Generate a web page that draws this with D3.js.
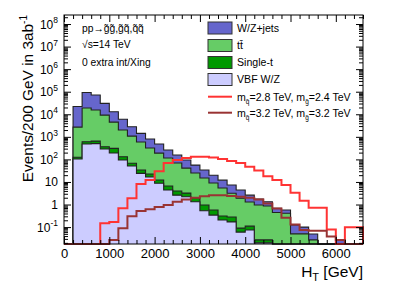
<!DOCTYPE html>
<html>
<head>
<meta charset="utf-8">
<script src="https://cdn.jsdelivr.net/npm/d3@7"></script>
<style>
body { margin: 0; background: #fff; }
svg { display: block; }
text { font-family: "Liberation Sans", Arial, Helvetica, sans-serif; fill: #000; }
</style>
</head>
<body>
<svg id="chart" width="405" height="291"></svg>
<script>
// HT binning: 200 GeV bins from 0 to 6600 GeV
const binWidth = 200;
const nBins = 33;

// backgrounds (events per bin), stacked bottom -> top
const vbfWZ = [0,104,480,500,288,191,94,51,24,16.5,8.7,4.4,2.6,2.2,1.33,0.53,0.34,0.205,0.17,0.06,0.074,0.02,0.02,0,0,0,0,0,0,0,0,0,0];
const singleTop = [0,20,127,146,77,118,37,16,10,5.9,3.5,2.2,1.4,1.0,0.61,0.42,0.23,0.105,0.11,0.03,0.036,0.007,0.007,0,0,0,0,0,0,0,0,0,0];
const ttbar = [0,2580,18400,14850,8840,4190,1870,1010,556,298,178,108,65,38,23,14,8.4,5.1,2.9,1.8,1.18,0.92,0.83,0.44,0.41,0.05,0.05,0.027,0,0,0,0,0];
const wzJets = [0,19300,73000,55500,21300,8500,4000,1720,840,480,290,145,87,53,31,19,11,6.6,4.1,2.5,1.31,0.8,0.47,0.24,0.16,0.073,0.05,0.022,0,0,0.027,0,0];

// signals
const sigLight = [0,0,0,0,0.146,0.17,0.68,1.9,8.1,12.2,30,69,94,115,131,131,120,104,85,69,47,32,18,12.2,7.3,3.3,1.47,0.72,0.72,0.079,0,0.098,0.098];
const sigHeavy = [0,0,0,0,0,0.027,0.088,0.3,0.51,0.61,0.78,0.95,1.33,1.67,2.0,2.3,2.6,2.6,2.4,2.2,2.0,1.67,1.1,0.66,0.26,0.13,0.074,0.068,0.068,0.038,0.027,0,0];

const xTicks = [0,1000,2000,3000,4000,5000,6000];
const yPowers = [8,7,6,5,4,3,2,1,0,-1];

const svg = d3.select("#chart");
const margin = {left: 64, right: 42, top: 15, bottom: 47};
const W = 405, H = 291;

const x = d3.scaleLinear().domain([0, nBins * binWidth]).range([margin.left, W - margin.right]);
const y = d3.scaleLog().domain([Math.pow(10, -1.75), Math.pow(10, 8.4)]).range([H - margin.bottom, margin.top]);
const yMin = y.domain()[0];

// cumulative stack tops
function cumulate(list) {
    let run = new Array(nBins).fill(0);
    return list.map(arr => { run = run.map((v, i) => v + arr[i]); return run; });
}
const [topVbf, topSingle, topTt, topWz] = cumulate([vbfWZ, singleTop, ttbar, wzJets]);

function yc(v) { return v > yMin ? y(v) : y(yMin); }

function stepPath(vals) {
    let p = "M" + x(0) + "," + yc(0);
    vals.forEach((v, i) => {
        p += "L" + x(i * binWidth) + "," + yc(v) + "L" + x((i + 1) * binWidth) + "," + yc(v);
    });
    p += "L" + x(nBins * binWidth) + "," + yc(0);
    return p;
}

const plot = svg.append("g");

// stacked histograms, drawn from the total downwards
const stackDefs = [
    {vals: topWz, fill: "#6666cc"},
    {vals: topTt, fill: "#66cc66"},
    {vals: topSingle, fill: "#009900"},
    {vals: topVbf, fill: "#ccccff"}
];
stackDefs.forEach(s => {
    plot.append("path").attr("d", stepPath(s.vals) + "Z")
        .attr("fill", s.fill).attr("stroke", "none");
    plot.append("path").attr("d", stepPath(s.vals))
        .attr("fill", "none").attr("stroke", "#222").attr("stroke-width", 1.1);
});

// signal lines
plot.append("path").attr("d", stepPath(sigLight))
    .attr("fill", "none").attr("stroke", "#ff3333").attr("stroke-width", 2);
plot.append("path").attr("d", stepPath(sigHeavy))
    .attr("fill", "none").attr("stroke", "#993333").attr("stroke-width", 2);

// frame
svg.append("rect")
    .attr("x", x.range()[0]).attr("y", y.range()[1])
    .attr("width", x.range()[1] - x.range()[0]).attr("height", y.range()[0] - y.range()[1])
    .attr("fill", "none").attr("stroke", "#000").attr("stroke-width", 1);

// minor tick values
const xMinor = d3.range(0, nBins * binWidth + 1, binWidth).filter(v => v % 1000 !== 0);
const yMinor = [];
for (let p = -2; p <= 8; p++) {
    for (let m = 2; m <= 9; m++) {
        const v = m * Math.pow(10, p);
        if (v > y.domain()[0] && v < y.domain()[1]) yMinor.push(v);
    }
}

function styleAxis(g) {
    g.select(".domain").remove();
    g.selectAll("line").attr("stroke", "#000").attr("stroke-width", 1);
}

const bottomY = y.range()[0], topY = y.range()[1];
const leftX = x.range()[0], rightX = x.range()[1];

svg.append("g").attr("transform", `translate(0,${bottomY})`)
    .call(d3.axisBottom(x).tickValues(xTicks).tickSizeInner(-7).tickSizeOuter(0).tickPadding(5).tickFormat(d3.format("d")))
    .call(styleAxis)
    .call(g => g.selectAll("text").attr("font-size", 13).attr("font-family", "Liberation Sans, Arial, sans-serif"));
svg.append("g").attr("transform", `translate(0,${bottomY})`)
    .call(d3.axisBottom(x).tickValues(xMinor).tickSizeInner(-4).tickSizeOuter(0).tickFormat(""))
    .call(styleAxis);
svg.append("g").attr("transform", `translate(0,${topY})`)
    .call(d3.axisTop(x).tickValues(xTicks).tickSizeInner(-7).tickSizeOuter(0).tickFormat(""))
    .call(styleAxis);
svg.append("g").attr("transform", `translate(0,${topY})`)
    .call(d3.axisTop(x).tickValues(xMinor).tickSizeInner(-4).tickSizeOuter(0).tickFormat(""))
    .call(styleAxis);

const yMajor = yPowers.map(p => Math.pow(10, p));
svg.append("g").attr("transform", `translate(${leftX},0)`)
    .call(d3.axisLeft(y).tickValues(yMajor).tickSizeInner(-7).tickSizeOuter(0).tickFormat(""))
    .call(styleAxis);
svg.append("g").attr("transform", `translate(${leftX},0)`)
    .call(d3.axisLeft(y).tickValues(yMinor).tickSizeInner(-4).tickSizeOuter(0).tickFormat(""))
    .call(styleAxis);
svg.append("g").attr("transform", `translate(${rightX},0)`)
    .call(d3.axisRight(y).tickValues(yMajor).tickSizeInner(-7).tickSizeOuter(0).tickFormat(""))
    .call(styleAxis);
svg.append("g").attr("transform", `translate(${rightX},0)`)
    .call(d3.axisRight(y).tickValues(yMinor).tickSizeInner(-4).tickSizeOuter(0).tickFormat(""))
    .call(styleAxis);

// y tick labels as 10^n
yPowers.forEach(p => {
    const t = svg.append("text")
        .attr("x", 58).attr("y", y(Math.pow(10, p)) + 4.5)
        .attr("text-anchor", "end").attr("font-size", 12);
    if (p === 0) { t.text("1"); return; }
    if (p === 1) { t.text("10"); return; }
    t.append("tspan").text("10");
    t.append("tspan").attr("font-size", 8.5).attr("dy", -5.5).text(p);
});

// axis titles
svg.append("text")
    .attr("transform", `translate(33,${topY}) rotate(-90)`)
    .attr("text-anchor", "end").attr("font-size", 15.4)
    .call(t => {
        t.append("tspan").text("Events/200 GeV in 3ab");
        t.append("tspan").attr("font-size", 10).attr("dy", -6).text("-1");
    });
const xt = svg.append("text")
    .attr("x", rightX).attr("y", 277)
    .attr("text-anchor", "end").attr("font-size", 15.5);
xt.append("tspan").text("H");
xt.append("tspan").attr("font-size", 11).attr("dy", 4).text("T");
xt.append("tspan").attr("dy", -4).text(" [GeV]");

// annotation
const note = svg.append("g");
note.append("text").attr("x", 82).attr("y", 32).attr("font-size", 10.3).text("pp\u2192g\u0303g\u0303,g\u0303q\u0303,q\u0303q\u0303");
note.append("text").attr("x", 82).attr("y", 48).attr("font-size", 10.3).text("\u221As=14 TeV");
note.append("text").attr("x", 82).attr("y", 66).attr("font-size", 10.3).text("0 extra int/Xing");

// legend
const legendItems = [
    {type: "box", fill: "#6666cc", label: [["W/Z+jets"]]},
    {type: "box", fill: "#66cc66", label: [["tt\u0304"]]},
    {type: "box", fill: "#009900", label: [["Single-t"]]},
    {type: "box", fill: "#ccccff", label: [["VBF W/Z"]]},
    {type: "line", color: "#ff3333", label: [["m"], ["q\u0303", "sub"], ["=2.8 TeV, m"], ["g\u0303", "sub"], ["=2.4 TeV"]]},
    {type: "line", color: "#993333", label: [["m"], ["q\u0303", "sub"], ["=3.2 TeV, m"], ["g\u0303", "sub"], ["=3.2 TeV"]]}
];
const legendY = [28, 45.5, 62.5, 79.5, 96.7, 112.7];
const legend = svg.append("g");
legendItems.forEach((it, i) => {
    const cy = legendY[i];
    if (it.type === "box") {
        legend.append("rect").attr("x", 208).attr("y", cy - 6).attr("width", 24).attr("height", 12)
            .attr("fill", it.fill).attr("stroke", "#333").attr("stroke-width", 1);
    } else {
        legend.append("line").attr("x1", 208).attr("x2", 232).attr("y1", cy).attr("y2", cy)
            .attr("stroke", it.color).attr("stroke-width", 2);
    }
    const t = legend.append("text").attr("x", 237).attr("y", cy + 3.8).attr("font-size", 10.6);
    let shifted = false;
    it.label.forEach(([s, kind]) => {
        const ts = t.append("tspan").text(s);
        if (kind === "sub") { ts.attr("dy", 3).attr("font-size", 6.5); shifted = true; }
        else if (shifted) { ts.attr("dy", -3).attr("font-size", 10.6); shifted = false; }
    });
});
</script>
</body>
</html>
